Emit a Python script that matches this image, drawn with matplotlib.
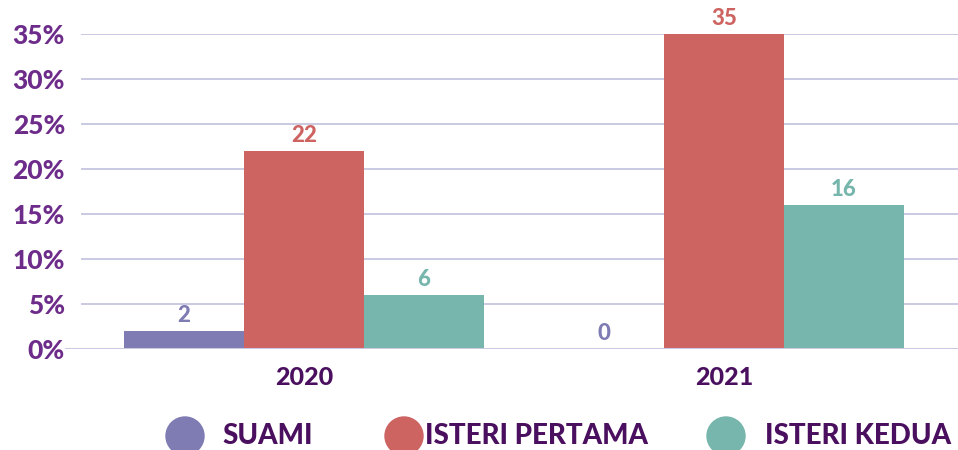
import matplotlib
matplotlib.use("Agg")
import matplotlib.pyplot as plt
from matplotlib.patches import Ellipse
import numpy as np

categories = ["2020", "2021"]
series_names = ["SUAMI", "ISTERI PERTAMA", "ISTERI KEDUA"]
suami = [2, 0]
isteri_pertama = [22, 35]
isteri_kedua = [6, 16]
yticks = [0, 5, 10, 15, 20, 25, 30, 35]
ytick_labels = ["0%", "5%", "10%", "15%", "20%", "25%", "30%", "35%"]

colors = ["#7F7BB3", "#CD6462", "#77B6AC"]
ytick_color = "#6D2C8A"
dark = "#4A0F5E"
grid_color = "#C9C9E3"

plt.rcParams['font.family'] = ['Lato', 'DejaVu Sans']
WEIGHT = "black"

W, H = 958, 450
fig = plt.figure(figsize=(W / 100, H / 100), dpi=100)
ax_left, ax_right, ax_bottom, ax_top = 65, 958, 349, 34
ax = fig.add_axes([ax_left / W, (H - ax_bottom) / H, (ax_right - ax_left) / W, (ax_bottom - ax_top) / H])

x = np.arange(len(categories))
bw = 120 / 420
values = [suami, isteri_pertama, isteri_kedua]
for i, (vals, c) in enumerate(zip(values, colors)):
    pos = x + (i - 1) * bw
    ax.bar(pos, vals, width=bw, color=c, zorder=3)
    for p, v in zip(pos, vals):
        ax.text(p, v + 0.6, f"{v}", ha="center", va="bottom", color=c,
                fontsize=16, fontweight=WEIGHT, clip_on=False, zorder=4)

ax.set_xlim((65 - 304) / 420, (958 - 304) / 420)
ax.set_ylim(0, 35)

gx = (82 - ax_left) / (ax_right - ax_left)
for t in yticks[1:]:
    ax.axhline(t, xmin=gx, xmax=1, color=grid_color, lw=1.4, zorder=1)
ax.axhline(0, xmin=0, xmax=1, color=grid_color, lw=2.2, zorder=5)

for s in ax.spines.values():
    s.set_visible(False)

ax.set_yticks(yticks)
ax.set_yticklabels(ytick_labels, color=ytick_color, fontsize=19, fontweight=WEIGHT)
ax.set_xticks(x)
ax.set_xticklabels(categories, color=dark, fontsize=18, fontweight=WEIGHT)
ax.tick_params(axis="both", length=0)
ax.tick_params(axis="y", pad=0)
ax.tick_params(axis="x", pad=12)

# legend
leg_items = [(185, 222), (404, 425), (726, 765)]
ly = 436
for (cx, tx), name, c in zip(leg_items, series_names, colors):
    fig.add_artist(Ellipse((cx / W, (H - ly) / H), 38 / W, 38 / H, color=c,
                           transform=fig.transFigure, clip_on=False))
    fig.text(tx / W, (H - ly) / H, name, ha="left", va="center", color=dark,
             fontsize=20, fontweight=WEIGHT)

fig.savefig("out.png", dpi=100)
